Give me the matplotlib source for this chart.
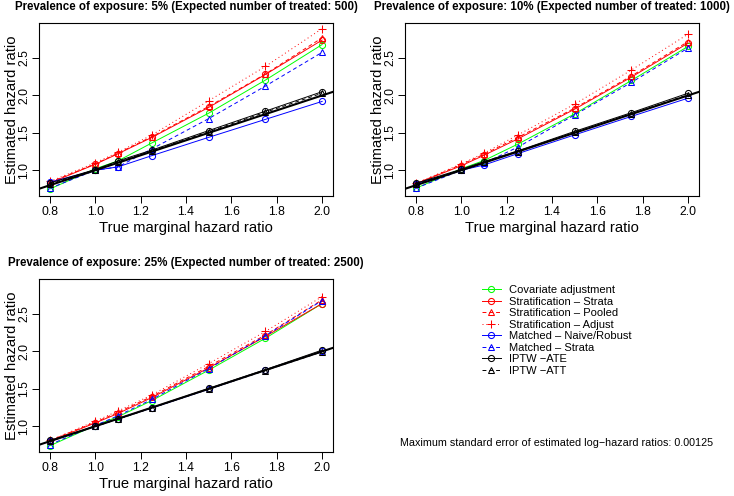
import matplotlib
matplotlib.use("Agg")
import matplotlib.pyplot as plt
import numpy as np

plt.rcParams['font.family'] = ['Liberation Sans', 'DejaVu Sans']

true_hr = [0.8, 1.0, 1.1, 1.25, 1.5, 1.75, 2.0]

titles = ["Prevalence of exposure: 5% (Expected number of treated: 500)",
          "Prevalence of exposure: 10% (Expected number of treated: 1000)",
          "Prevalence of exposure: 25% (Expected number of treated: 2500)"]

methods = ["Covariate adjustment", "Stratification \u2013 Strata", "Stratification \u2013 Pooled",
           "Stratification \u2013 Adjust", "Matched \u2013 Naive/Robust", "Matched \u2013 Strata",
           "IPTW \u2212ATE", "IPTW \u2212ATT"]

# estimated hazard ratios, one list per method, per panel
p5 = {
    "cov":      [0.75, 1.02, 1.125, 1.366, 1.763, 2.205, 2.68],
    "strata":   [0.83, 1.08, 1.22, 1.44, 1.84, 2.28, 2.74],
    "pooled":   [0.84, 1.085, 1.228, 1.45, 1.853, 2.286, 2.77],
    "adjust":   [0.85, 1.10, 1.24, 1.473, 1.929, 2.388, 2.893],
    "m_naive":  [0.84, 1.0, 1.045, 1.196, 1.44, 1.68, 1.92],
    "m_strata": [0.76, 1.0, 1.045, 1.286, 1.69, 2.125, 2.576],
    "ate":      [0.83, 1.01, 1.125, 1.27, 1.53, 1.79, 2.05],
    "att":      [0.82, 1.005, 1.11, 1.26, 1.515, 1.775, 2.03],
}
p10 = {
    "cov":      [0.76, 1.02, 1.13, 1.35, 1.754, 2.20, 2.656],
    "strata":   [0.82, 1.06, 1.20, 1.42, 1.817, 2.245, 2.70],
    "pooled":   [0.82, 1.076, 1.214, 1.44, 1.83, 2.26, 2.72],
    "adjust":   [0.826, 1.085, 1.228, 1.473, 1.884, 2.34, 2.82],
    "m_naive":  [0.82, 1.0, 1.07, 1.223, 1.473, 1.72, 1.964],
    "m_strata": [0.76, 1.0, 1.094, 1.31, 1.74, 2.174, 2.634],
    "ate":      [0.826, 1.013, 1.116, 1.26, 1.52, 1.77, 2.03],
    "att":      [0.815, 1.005, 1.105, 1.25, 1.505, 1.755, 2.01],
}
p25 = {
    "cov":      [0.74, 1.01, 1.127, 1.344, 1.75, 2.176, 2.64],
    "strata":   [0.80, 1.045, 1.17, 1.385, 1.78, 2.20, 2.64],
    "pooled":   [0.81, 1.054, 1.186, 1.40, 1.80, 2.22, 2.69],
    "adjust":   [0.81, 1.068, 1.204, 1.42, 1.837, 2.267, 2.733],
    "m_naive":  [0.80, 1.0, 1.10, 1.245, 1.495, 1.75, 2.0],
    "m_strata": [0.755, 1.01, 1.14, 1.36, 1.77, 2.21, 2.68],
    "ate":      [0.81, 1.0, 1.10, 1.25, 1.505, 1.757, 2.018],
    "att":      [0.80, 0.998, 1.095, 1.245, 1.495, 1.745, 1.995],
}

keys = ["cov", "strata", "pooled", "adjust", "m_naive", "m_strata", "ate", "att"]
colors = ["#00ff00", "red", "red", "red", "blue", "blue", "black", "black"]
markers = ["o", "o", "^", "+", "o", "^", "o", "^"]
styles = ["-", "-", (0, (4, 3)), (0, (1, 3)), "-", (0, (4, 3)), "-", (0, (4, 3))]

fig = plt.figure(figsize=(7.34, 4.96), dpi=100)
W, H = 734, 496
boxes = [(39, 23), (405, 23), (39, 279)]
bw, bh = 294, 173

handles = []
for i, (data, title) in enumerate(zip([p5, p10, p25], titles)):
    x0, y0 = boxes[i]
    ax = fig.add_axes([x0 / W, 1 - (y0 + bh) / H, bw / W, bh / H])
    hs = []
    for k, c, m, ls in zip(keys, colors, markers, styles):
        h, = ax.plot(true_hr, data[k], color=c, marker=m, linestyle=ls, lw=0.7,
                     ms=5.5 if m == "+" else 4.4, mfc="none", mew=0.75)
        hs.append(h)
    if i == 0:
        handles = hs
    ax.axline((1.0, 1.0), (2.0, 2.0), color="black", lw=1.5)
    ax.set_xlim(0.752, 2.048)
    ax.set_ylim(0.656, 2.968)
    ax.set_xticks([0.8, 1.0, 1.2, 1.4, 1.6, 1.8, 2.0])
    ax.set_yticks([1.0, 1.5, 2.0, 2.5])
    ax.set_xticklabels(["0.8", "1.0", "1.2", "1.4", "1.6", "1.8", "2.0"])
    ax.set_yticklabels(["1.0", "1.5", "2.0", "2.5"])
    ax.tick_params(length=5, width=0.7, labelsize=8.8, pad=2)
    ax.tick_params(axis="y", pad=1.5)
    for lbl in ax.get_yticklabels():
        lbl.set_rotation(90)
        lbl.set_va("center")
    for sp in ax.spines.values():
        sp.set_linewidth(0.8)
    ax.set_xlabel("True marginal hazard ratio", fontsize=10.6)
    ax.set_ylabel("Estimated hazard ratio", fontsize=10.6)
    ax.xaxis.set_label_coords(0.5, -0.185)
    ax.xaxis.label.set_va("center")
    ax.yaxis.set_label_coords(-0.092, 0.5)
    ax.yaxis.label.set_va("center")
    ax.text(0.5, 1 + 16 / bh, title, transform=ax.transAxes, ha="center", va="center",
            fontsize=8.3, fontweight="bold")

fig.legend(handles, methods, loc="upper left", bbox_to_anchor=(482 / W, 1 - 285 / H),
           frameon=False, fontsize=8, borderpad=0, labelspacing=0.14,
           handlelength=1.7, handletextpad=0.75, borderaxespad=0)

fig.text(557 / W, 1 - 443 / H,
         "Maximum standard error of estimated log\u2212hazard ratios: 0.00125",
         ha="center", va="center", fontsize=7.75)

fig.savefig("out.png", dpi=100)
